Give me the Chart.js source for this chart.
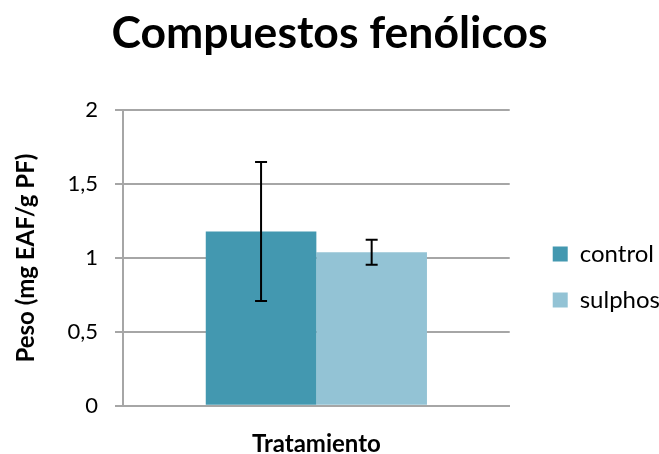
<!DOCTYPE html>
<html>
<head>
<meta charset="utf-8">
<script src="https://cdn.jsdelivr.net/npm/chart.js@4"></script>
<style>
  html, body { margin: 0; padding: 0; background: #fff; }
  #wrap { width: 659px; height: 454px; }
</style>
</head>
<body>
<div id="wrap"><canvas id="fenolChart" width="659" height="454"></canvas></div>
<script>
// data
const categories = [''];
const seriesNames = ['control', 'sulphos'];
const controlValues = [1.18];
const sulphosValues = [1.04];
const controlErrors = [0.47];
const sulphosErrors = [0.085];
const yTicks = [0, 0.5, 1, 1.5, 2];

const FONT = 'Lato, "Open Sans", sans-serif';

// simple error bar plugin, draws whiskers from the dataset errors
const errorBars = {
  id: 'errorBars',
  afterDatasetsDraw(chart) {
    const ctx = chart.ctx;
    const yScale = chart.scales.y;
    chart.data.datasets.forEach((ds, i) => {
      const meta = chart.getDatasetMeta(i);
      meta.data.forEach((bar, j) => {
        const v = ds.data[j];
        const e = ds.errors[j];
        const top = yScale.getPixelForValue(v + e);
        const bottom = yScale.getPixelForValue(v - e);
        ctx.save();
        ctx.strokeStyle = '#000';
        ctx.lineWidth = 2;
        ctx.beginPath();
        ctx.moveTo(bar.x, top);
        ctx.lineTo(bar.x, bottom);
        ctx.moveTo(bar.x - 6, top);
        ctx.lineTo(bar.x + 6, top);
        ctx.moveTo(bar.x - 6, bottom);
        ctx.lineTo(bar.x + 6, bottom);
        ctx.stroke();
        ctx.restore();
      });
    });
  }
};

// nudge the legend a bit, Excel puts it further right and lower
const legendNudge = {
  id: 'legendNudge',
  afterLayout(chart) {
    const lg = chart.legend;
    lg.left += 21;
    lg.right += 21;
    lg.top += 50;
    lg.bottom += 50;
  }
};

const ctx = document.getElementById('fenolChart').getContext('2d');
new Chart(ctx, {
  type: 'bar',
  data: {
    labels: categories,
    datasets: [
      {
        label: seriesNames[0],
        data: controlValues,
        errors: controlErrors,
        backgroundColor: '#4398B0',
        categoryPercentage: 0.572,
        barPercentage: 1.0,
      },
      {
        label: seriesNames[1],
        data: sulphosValues,
        errors: sulphosErrors,
        backgroundColor: '#93C3D5',
        categoryPercentage: 0.572,
        barPercentage: 1.0,
      },
    ],
  },
  options: {
    responsive: false,
    animation: false,
    layout: { padding: { left: 10, right: 10, top: 0, bottom: 0 } },
    plugins: {
      title: {
        display: true,
        text: 'Compuestos fenólicos',
        font: { family: FONT, size: 44.5, weight: 'bold' },
        color: '#000',
        padding: { top: 7, bottom: 50 },
      },
      legend: {
        position: 'right',
        labels: {
          font: { family: FONT, size: 24 },
          color: '#000',
          boxWidth: 15,
          boxHeight: 15,
          padding: 22,
        },
      },
      tooltip: { enabled: false },
    },
    scales: {
      x: {
        grid: { display: false, drawTicks: false },
        border: { color: '#A6A6A6', width: 2 },
        ticks: { display: false },
        title: {
          display: true,
          text: 'Tratamiento',
          font: { family: FONT, size: 24, weight: 'bold', lineHeight: 0.8 },
          color: '#000',
          padding: { top: 29, bottom: 0 },
        },
      },
      y: {
        min: 0,
        max: 2,
        afterBuildTicks: axis => { axis.ticks = yTicks.map(v => ({ value: v })); },
        afterFit: axis => { axis.width = 113; },
        grid: { color: '#A6A6A6', lineWidth: 2, tickLength: 8 },
        border: { color: '#A6A6A6', width: 2 },
        ticks: {
          font: { family: FONT, size: 22 },
          color: '#000',
          padding: 17,
          callback: v => String(v).replace('.', ','),
        },
        title: {
          display: true,
          text: 'Peso (mg EAF/g PF)',
          font: { family: FONT, size: 24, weight: 'bold' },
          color: '#000',
          padding: { top: 2, bottom: 0 },
        },
      },
    },
  },
  plugins: [errorBars, legendNudge],
});
</script>
</body>
</html>
